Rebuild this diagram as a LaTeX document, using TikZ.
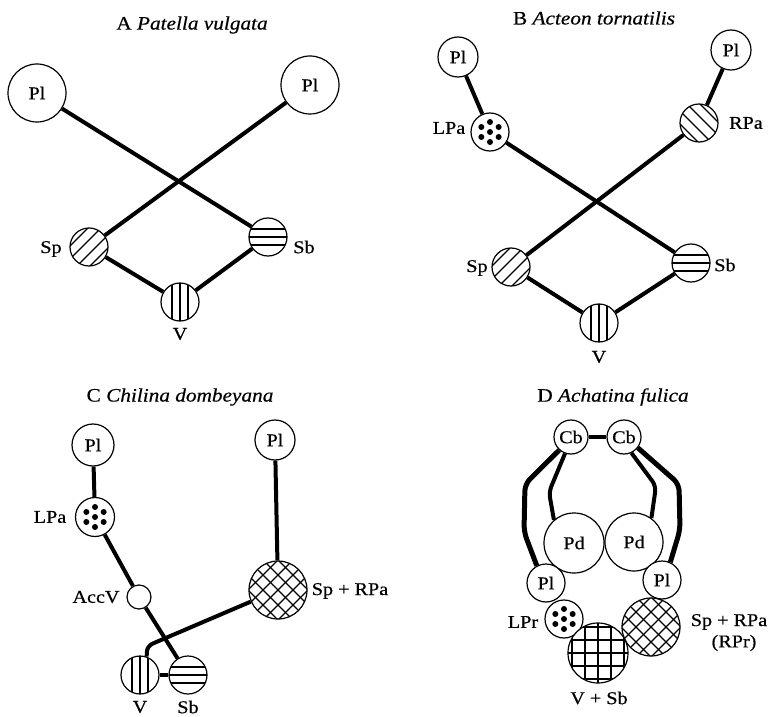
\documentclass[tikz,border=0pt]{standalone}
\usepackage{fontspec}
\setmainfont{Liberation Serif}[FakeStretch=1.12, FakeBold=0.5]
\begin{document}
\begin{tikzpicture}[x=1pt,y=-1pt,font=\fontsize{18}{21}\selectfont]
\tikzset{
 nd/.style={circle, draw, line width=1.2pt, fill=white, minimum size=#1, inner sep=0pt},
 conn/.style={line width=4pt},
 thickconn/.style={line width=5pt, rounded corners=7pt},
 lab/.style={inner sep=0pt},
 ttl/.style={inner sep=0pt, font=\fontsize{19}{22}\selectfont},
 hl/.style={line width=1.1pt},
 vert/.style={path picture={\foreach \o in {-8,0,8} \draw[hl] ([shift={(\o,-40)}]path picture bounding box.center) -- ([shift={(\o,40)}]path picture bounding box.center);}},
 horiz/.style={path picture={\foreach \o in {-8,0,8} \draw[hl] ([shift={(-40,\o)}]path picture bounding box.center) -- ([shift={(40,\o)}]path picture bounding box.center);}},
 diagf/.style={path picture={\foreach \c in {-20,-7,7,20} \draw[hl] ([shift={(\c-40,40)}]path picture bounding box.center) -- ([shift={(\c+40,-40)}]path picture bounding box.center);}},
 diagb/.style={path picture={\foreach \c in {-20,-7,7,20} \draw[hl] ([shift={(\c-40,-40)}]path picture bounding box.center) -- ([shift={(\c+40,40)}]path picture bounding box.center);}},
 cross/.style={path picture={\foreach \c in {-60,-45,...,60} {\draw[hl] ([shift={(\c-40,40)}]path picture bounding box.center) -- ([shift={(\c+40,-40)}]path picture bounding box.center); \draw[hl] ([shift={(\c-40,-40)}]path picture bounding box.center) -- ([shift={(\c+40,40)}]path picture bounding box.center);}}},
 grid/.style={path picture={\foreach \o in {-26,-13,0,13,26} {\draw[hl] ([shift={(\o,-40)}]path picture bounding box.center) -- ([shift={(\o,40)}]path picture bounding box.center); \draw[hl] ([shift={(-40,\o)}]path picture bounding box.center) -- ([shift={(40,\o)}]path picture bounding box.center);}}},
 dots/.style={path picture={\foreach \a in {90,150,...,390} \fill[black] ([shift={(\a:10)}]path picture bounding box.center) circle (3pt); \fill[black] (path picture bounding box.center) circle (3pt);}},
}
\useasboundingbox (0,0) rectangle (772,717);

% ---------- Panel A ----------
\node[ttl] (aT) at (192,25) {A \textit{Patella vulgata}};
\node[nd=58] (aPlL) at (37,93) {Pl};
\node[nd=58] (aPlR) at (310,85) {Pl};
\node[nd=38, diagf] (aSp) at (89,247) {};
\node[nd=38, horiz] (aSb) at (268,237) {};
\node[nd=38, vert] (aV) at (180,302) {};
\node[lab] (aSpL) at (51,249) {Sp};
\node[lab] (aSbL) at (304,247) {Sb};
\node[lab] (aVL) at (180,334) {V};
\draw[conn] (aPlL) -- (aSb);
\draw[conn] (aPlR) -- (aSp);
\draw[conn] (aSp) -- (aV);
\draw[conn] (aV) -- (aSb);

% ---------- Panel B ----------
\node[ttl] (bT) at (594,18) {B \textit{Acteon tornatilis}};
\node[nd=40] (bPlL) at (458,57) {Pl};
\node[nd=40] (bPlR) at (731,50) {Pl};
\node[nd=38, dots] (bLPa) at (490,132) {};
\node[nd=38, diagb] (bRPa) at (699,123) {};
\node[nd=38, diagf] (bSp) at (511,267) {};
\node[nd=38, horiz] (bSb) at (691,263) {};
\node[nd=38, vert] (bV) at (599,323) {};
\node[lab] (bLPaL) at (449,128) {LPa};
\node[lab] (bRPaL) at (746,123) {RPa};
\node[lab] (bSpL) at (477,268) {Sp};
\node[lab] (bSbL) at (725,265) {Sb};
\node[lab] (bVL) at (599,357) {V};
\draw[conn] (bPlL) -- (bLPa);
\draw[conn] (bPlR) -- (bRPa);
\draw[conn] (bLPa) -- (bSb);
\draw[conn] (bRPa) -- (bSp);
\draw[conn] (bSp) -- (bV);
\draw[conn] (bV) -- (bSb);

% ---------- Panel C ----------
\node[ttl] (cT) at (180,397) {C \textit{Chilina dombeyana}};
\node[nd=42] (cPlL) at (93,445) {Pl};
\node[nd=40] (cPlR) at (275,440) {Pl};
\node[nd=39, dots] (cLPa) at (95,517) {};
\node[nd=24] (cAcc) at (139,597) {};
\node[nd=58, cross] (cSpR) at (278,590) {};
\node[nd=38, vert] (cV) at (140,675) {};
\node[nd=38, horiz] (cSb) at (188,675) {};
\node[lab] (cLPaL) at (50,517) {LPa};
\node[lab] (cAccL) at (96,597) {AccV};
\node[lab] (cSpRL) at (350,591) {Sp + RPa};
\node[lab] (cVL) at (140,707) {V};
\node[lab] (cSbL) at (188,707) {Sb};
\coordinate (cK) at (147,646);
\draw[conn] (cPlL) -- (cLPa);
\draw[conn] (cLPa) -- (cAcc);
\draw[conn] (cAcc) -- (cSb);
\draw[conn] (cPlR) -- (cSpR);
\draw[conn, rounded corners=6pt] (cSpR) -- (cK) -- (cV.70);
\draw[conn] (cV) -- (cSb);

% ---------- Panel D ----------
\node[ttl] (dT) at (613,397) {D \textit{Achatina fulica}};
\node[nd=34] (dCbL) at (571,437) {Cb};
\node[nd=34] (dCbR) at (624,437) {Cb};
\node[nd=60] (dPdL) at (574,543) {Pd};
\node[nd=58] (dPdR) at (634,542) {Pd};
\node[nd=38] (dPlL) at (546,583) {Pl};
\node[nd=38] (dPlR) at (662,580) {Pl};
\node[nd=38, dots] (dLPr) at (564,619) {};
\node[nd=58, cross] (dSpR) at (651,627) {};
\node[nd=60, grid] (dVSb) at (598,653) {};
\node[lab] (dLPrL) at (523,622) {LPr};
\node[lab] (dSpRL) at (729,622) {Sp + RPa};
\node[lab] (dRPrL) at (734,643) {(RPr)};
\node[lab] (dVSbL) at (599,698) {V + Sb};
\draw[conn] (dCbL) -- (dCbR);
\draw[thickconn] (dCbL.228) -- (525,484) -- (524,532) -- (dPlL.118);
\draw[conn, rounded corners=6pt] (dCbL.250) -- (549,492) -- (dPdL.131);
\draw[conn, rounded corners=6pt] (dCbR.295) -- (656,486) -- (dPdR.54);
\draw[thickconn] (dCbR.322) -- (679,484) -- (680,530) -- (dPlR.65);
\end{tikzpicture}
\end{document}
